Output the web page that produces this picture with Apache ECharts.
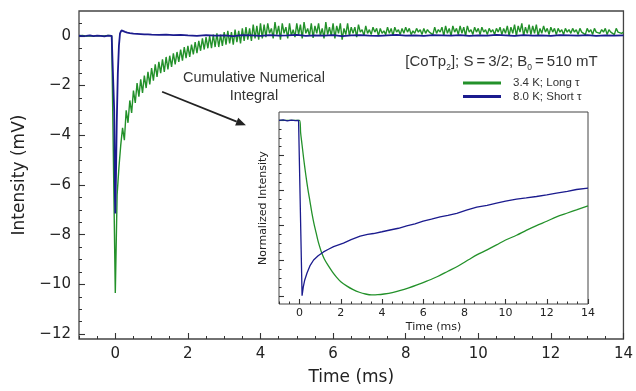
<!DOCTYPE html>
<html><head><meta charset="utf-8">
<script src="https://cdn.jsdelivr.net/npm/echarts@6/dist/echarts.min.js"></script>
<style>html,body{margin:0;padding:0;background:#fff}#c{width:636px;height:391px}</style>
</head><body><div id="c"></div>
<script>
// ---------- DATA ----------
const seriesNames = ['3.4 K; Long \u03c4', '8.0 K; Short \u03c4'];
// Main panel, 3.4 K trace: uniform sampling from -1 ms, 0.05 ms step (mV)
const greenStart = -1, greenStep = 0.05;
const greenValues = [
  0.01,-0.01,0.02,0,-0.01,0.01,0,0.02,-0.01,0, 0.01,-0.02,0,0.01,0,-0.01,0.02,0,0.01,0,
  -10.35,
  -6.4,-5.3,-4.4,-3.7,-4.2,-3.0,-3.5,-2.6,-3.1,-2.2,
  -2.7,-1.9,-2.45,-1.75,-2.3,-1.6,-2.1,-1.45,-1.95,-1.3,
  -1.8,-1.15,-1.65,-1.05,-1.5,-0.95,-1.45,-0.85,-1.35,-0.8,
  -1.25,-0.7,-1.15,-0.65,-1.05,-0.55,-1.0,-0.45,-0.9,-0.4,
  -0.85,-0.35,-0.75,-0.25,-0.7,-0.2,-0.6,-0.1,-0.55,-0.05,
  -0.5,0.0,-0.5,0.05,-0.45,0.1,-0.45,0.05,-0.4,0.15,
  -0.35,0.2,-0.3,0.15,-0.35,0.25,-0.25,0.2,-0.3,0.3,
  -0.2,0.35,-0.15,0.3,-0.2,0.45,-0.1,0.4,-0.15,0.5,
  -0.1,0.45,-0.05,0.5,0.1,0.3,-0.1,0.55,0.05,0.4,
  -0.15,0.5,0.1,0.35,-0.1,0.5,0.0,0.25,-0.05,0.5,
  0.05,0.45,-0.1,0.55,0.1,0.3,0.0,0.5,-0.08,0.4,
  0.1,0.5,0.0,0.3,-0.1,0.55,0.05,0.35,0.0,0.5,
  -0.1,0.4,0.1,0.5,-0.15,0.3,0.05,0.5,0.0,0.35,
  0.1,0.35,-0.05,0.45,0.15,0.25,0.0,0.4,0.1,0.25,
  0.05,0.35,0.15,0.3,0.0,0.3,0.1,0.2,0.05,0.35,
  0.1,0.3,0.0,0.35,0.15,0.25,0.05,0.3,0.1,0.35,
  0.15,0.3,0.05,0.2,0.1,0.3,0.15,0.25,0.05,0.3,
  0.1,0.25,0.15,0.2,0.05,0.35,0.1,0.25,0.15,0.35,
  0.0,0.4,0.1,0.3,0.0,0.4,0.15,0.3,0.05,0.4,
  0.1,0.35,0.0,0.4,0.15,0.25,0.05,0.35,0.15,0.3,
  0.05,0.35,0.15,0.25,0.05,0.3,0.15,0.25,0.05,0.3,
  0.15,0.35,0.05,0.3,0.1,0.4,0.0,0.35,0.1,0.45,
  0.0,0.4,0.15,0.5,0.0,0.35,0.1,0.45,0.05,0.4,
  0.1,0.45,0.0,0.3,0.1,0.4,0.15,0.3,0.05,0.35,
  0.15,0.3,0.05,0.3,0.15,0.25,0.05,0.3,0.15,0.25,
  0.1,0.3,0.15,0.25,0.05,0.3,0.15,0.2,0.05,0.3,
  0.15,0.25,0.05,0.3,0.15,0.2,0.1,0.25,0.15,0.3,
  0.05,0.25,0.15,0.2,0.05,0.3,0.15,0.2,0.1,0.15
];
// Main panel, 8.0 K trace: early part [time ms, mV]
const blueEarly = [
  [-1,0.01],[-0.9,-0.01],[-0.8,0],[-0.7,0.02],[-0.6,-0.01],[-0.5,0.01],[-0.4,0],[-0.3,-0.02],[-0.2,0.01],[-0.1,0],[-0.05,0.01],
  [-0.03,-3.0],[-0.01,-6.5],[0.0,-7.15],[0.02,-5.5],[0.04,-3.5],[0.07,-1.5],[0.1,-0.4],[0.13,0.1],[0.17,0.22],
  [0.22,0.2],[0.27,0.16],[0.33,0.13],[0.4,0.11],[0.5,0.09],[0.6,0.08],[0.7,0.07],[0.8,0.06],[0.9,0.06],[1.0,0.05],
  [1.2,0.04],[1.4,0.05],[1.6,0.03],[1.8,0.04]
];
// 8.0 K trace, later part: uniform sampling from 2 ms, 0.25 ms step (mV)
const blueLateStart = 2, blueLateStep = 0.25;
const blueLateValues = [
  0.02,0.0,0.03,0.01,0.02,-0.01,0.03,0.02,0.0,0.03,
  0.01,0.02,0.04,0.0,0.02,0.01,0.03,-0.01,0.02,0.03,
  0.01,0.0,0.02,0.04,0.01,0.02,0.0,0.03,0.02,0.01,
  0.03,0.0,0.02,0.01,0.04,0.02,0.0,0.03,0.01,0.02,
  0.0,0.03,0.02,0.01,0.03,0.0,0.02,0.01,0.02
];
// Inset: cumulative numerical integral, normalized [time ms, value]
const greenNorm = [
  [-1,1.0],[-0.5,1.0],[0.0,1.0],[0.05,0.93],[0.12,0.86],[0.2,0.78],[0.3,0.69],[0.4,0.61],[0.5,0.54],
  [0.6,0.47],[0.7,0.41],[0.8,0.36],[0.9,0.31],[1.0,0.27],[1.08,0.242],[1.2,0.21],[1.4,0.17],[1.6,0.135],
  [1.8,0.105],[2.0,0.08],[2.3,0.055],[2.6,0.035],[2.9,0.02],[3.2,0.01],[3.5,0.005],[3.8,0.006],[4.1,0.01],
  [4.5,0.018],[4.9,0.03],[5.3,0.045],[5.7,0.062],[6.2,0.085],[6.7,0.11],[7.2,0.14],[7.7,0.17],[8.2,0.205],
  [8.6,0.233],[9.1,0.262],[9.56,0.29],[10.0,0.318],[10.53,0.345],[11.0,0.373],[11.5,0.40],[12.0,0.425],
  [12.47,0.45],[13.0,0.472],[13.44,0.49],[14.0,0.513]
];
const blueNorm = [
  [-1,1.0],[-0.8,1.003],[-0.6,0.998],[-0.4,1.002],[-0.2,0.999],[-0.05,1.0],[0.0,1.0],[0.12,0.0],[0.18,0.05],
  [0.25,0.09],[0.36,0.13],[0.5,0.17],[0.68,0.204],[0.9,0.228],[1.16,0.25],[1.4,0.265],[1.65,0.28],[2.13,0.30],
  [2.5,0.32],[2.94,0.34],[3.3,0.35],[3.59,0.355],[4.0,0.365],[4.39,0.375],[4.8,0.385],[5.2,0.398],[5.6,0.41],
  [6.0,0.425],[6.4,0.437],[6.82,0.45],[7.2,0.458],[7.63,0.47],[8.1,0.488],[8.6,0.505],[9.1,0.515],[9.56,0.528],
  [10.0,0.54],[10.53,0.551],[11.0,0.558],[11.5,0.566],[12.0,0.575],[12.47,0.585],[13.0,0.595],[13.44,0.606],[14,0.614]
];
// Tick labels
const mainXTicks = [0,2,4,6,8,10,12,14];
const mainYTicks = [-12,-10,-8,-6,-4,-2,0];
const insetXTicks = [0,2,4,6,8,10,12,14];
const insetYTicks = [0,0.2,0.4,0.6,0.8,1.0];

// ---------- BUILD ----------
function steps(a,b,s){const r=[];for(let k=0;a+k*s<=b+1e-9;k++)r.push(+(a+k*s).toFixed(3));return r;}
const greenData = greenValues.map((v,i)=>[+(greenStart+i*greenStep).toFixed(3), v]);
const blueData = blueEarly.concat(blueLateValues.map((v,i)=>[+(blueLateStart+i*blueLateStep).toFixed(3), v]));

const GREEN = '#23912a', BLUE = '#1b1b8e', AX = '#333';
const DV = 'DejaVu Sans', LS = 'Liberation Sans';
const minus = v => (v < 0 ? '\u2212' + Math.abs(v) : String(v));

function axis(dim, grid, min, max, major, minorVals, opts) {
  const pos = dim === 'x' ? 'bottom' : 'left';
  const a = {
    type:'value', gridIndex:grid, min:min, max:max, position:pos,
    axisLine:{show:false,onZero:false}, splitLine:{show:false},
    axisTick:{show:true,inside:true,length:opts.len,customValues:major,lineStyle:{color:AX,width:1.1}},
    axisLabel: opts.labels ? {customValues:major,margin:opts.margin,fontFamily:DV,fontSize:opts.fs,color:'#222',formatter:minus}
                           : {show:false}
  };
  if (opts.name) {
    a.name = opts.name; a.nameLocation = 'middle'; a.nameGap = opts.nameGap;
    a.nameTextStyle = {fontFamily:DV,fontSize:opts.nfs,color:'#222'};
  }
  const b = {
    type:'value', gridIndex:grid, min:min, max:max, position:pos,
    axisLine:{show:false,onZero:false}, splitLine:{show:false},
    axisTick:{show:true,inside:true,length:opts.len/2,customValues:minorVals,lineStyle:{color:AX,width:1}},
    axisLabel:{show:false}
  };
  return [a,b];
}

const xAxes = [
  ...axis('x',0,-1,14,mainXTicks,steps(-1,14,0.5),{len:6,labels:true,margin:8,fs:15,name:'Time (ms)',nameGap:30,nfs:17}),
  ...axis('x',1,-1,14,insetXTicks,steps(-1,14,0.5),{len:5,labels:true,margin:4,fs:11,name:'Time (ms)',nameGap:18,nfs:11})
];
const yAxes = [
  ...axis('y',0,-12.2,1,mainYTicks,steps(-12,0.5,0.5),{len:6,labels:true,margin:8,fs:15,name:'Intensity (mV)',nameGap:47,nfs:17}),
  ...axis('y',1,-0.047,1.048,insetYTicks,steps(0,1,0.05),{len:5,labels:false,name:'Normalized Intensity',nameGap:10,nfs:11})
];

const chart = echarts.init(document.getElementById('c'), null, {renderer:'canvas'});
chart.setOption({
  animation:false,
  backgroundColor:'#fff',
  grid:[
    {left:79, right:11, top:11, bottom:46, show:true, borderColor:'#444', borderWidth:1.3, backgroundColor:'transparent'},
    {left:279, right:48, top:112, bottom:87, show:true, borderColor:'#444', borderWidth:1, backgroundColor:'#fff'}
  ],
  xAxis:xAxes, yAxis:yAxes,
  legend:{
    data:seriesNames, orient:'vertical', left:458, top:72, itemWidth:38, itemHeight:3, itemGap:1.5, icon:'rect',
    textStyle:{fontFamily:LS, fontSize:11.5, color:'#333', padding:[0,0,0,7]}
  },
  series:[
    {name:seriesNames[0], type:'line', xAxisIndex:0, yAxisIndex:0, data:greenData, showSymbol:false, symbol:'none',
     lineStyle:{color:GREEN,width:1.4}, itemStyle:{color:GREEN}, z:2},
    {name:seriesNames[1], type:'line', xAxisIndex:0, yAxisIndex:0, data:blueData, showSymbol:false, symbol:'none',
     lineStyle:{color:BLUE,width:1.8}, itemStyle:{color:BLUE}, z:3},
    {name:'inset-long', type:'line', xAxisIndex:2, yAxisIndex:2, data:greenNorm, showSymbol:false, symbol:'none', smooth:0.3,
     lineStyle:{color:GREEN,width:1.3}, z:4},
    {name:'inset-short', type:'line', xAxisIndex:2, yAxisIndex:2, data:blueNorm, showSymbol:false, symbol:'none',
     lineStyle:{color:BLUE,width:1.3}, z:5}
  ]
});

// ---------- ANNOTATIONS (anchored in data coordinates) ----------
const P = d => chart.convertToPixel({gridIndex:0}, d);
const a0 = P([1.29,-2.25]), a1 = P([3.6,-3.6]);
const dx = a1[0]-a0[0], dy = a1[1]-a0[1], L = Math.hypot(dx,dy), ux = dx/L, uy = dy/L;
const hl = 10, hw = 4.2, bx = a1[0]-ux*hl, by = a1[1]-uy*hl;
const tc = P([3.82,-2.05]);
const lg = P([7.99,-1.03]);
chart.setOption({
  graphic:[
    {type:'line', shape:{x1:a0[0],y1:a0[1],x2:bx,y2:by}, style:{stroke:'#222',lineWidth:1.8}, z:10},
    {type:'polygon', shape:{points:[[a1[0],a1[1]],[bx-uy*hw,by+ux*hw],[bx+uy*hw,by-ux*hw]]}, style:{fill:'#222'}, z:10},
    {type:'text', x:tc[0], y:tc[1], z:10,
     style:{text:'Cumulative Numerical\nIntegral', align:'center', verticalAlign:'middle', lineHeight:18,
            font:'14.5px "Liberation Sans"', fill:'#333'}},
    {type:'text', x:lg[0], y:lg[1], z:10,
     style:{text:'[CoTp{s|2}]; S\u2009=\u20093/2; B{s|0}\u2009=\u2009510 mT', align:'left', verticalAlign:'middle',
            font:'15px "Liberation Sans"', fill:'#333',
            rich:{s:{fontSize:8.5, fontFamily:LS, fill:'#333', verticalAlign:'bottom', padding:[0,0,-3,0]}}}}
  ]
});
</script></body></html>
